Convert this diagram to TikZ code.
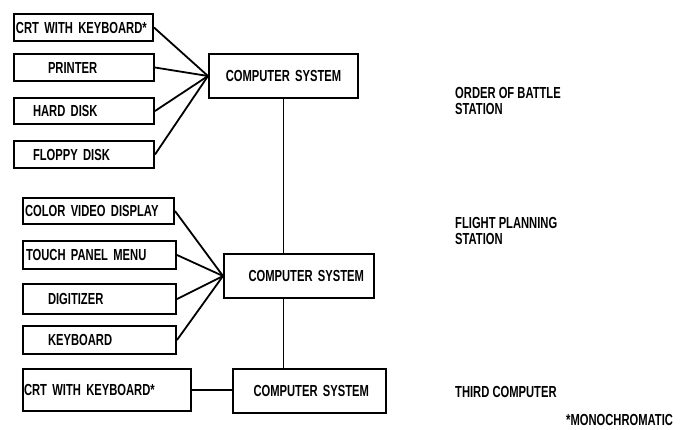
\documentclass[tikz,border=0pt]{standalone}
\usepackage{fontspec}
\setmainfont{Liberation Sans}[FakeStretch=0.7]
\usepackage{tikz}
\usetikzlibrary{positioning, calc}

\tikzset{
  box/.style={draw, line width=2pt, inner sep=0pt, anchor=north west, align=left,
    font=\bfseries\fontsize{16}{16}\selectfont},
  note/.style={inner sep=0pt, align=left, font=\bfseries\fontsize{16}{16}\selectfont},
  wire/.style={line width=1.8pt}
}

\begin{document}
\begin{tikzpicture}[x=1pt, y=-1pt]
    \useasboundingbox (0,0) rectangle (691,429);

    % Order of battle station
    \node[box, minimum width=139, minimum height=27, text width=135] (crtA) at (13,13) {CRT WITH KEYBOARD*};
    \node[box, minimum width=140, minimum height=27, text width=72] (printer) at (13,53) {PRINTER};
    \node[box, minimum width=140, minimum height=26, text width=102] (hdd) at (13,97) {HARD DISK};
    \node[box, minimum width=140, minimum height=27, text width=102] (floppy) at (13,140) {FLOPPY DISK};
    \node[box, minimum width=149, minimum height=44, text width=135, align=center] (cs1) at (208,53) {COMPUTER SYSTEM};

    % Flight planning station
    \node[box, minimum width=151, minimum height=26, text width=147] (video) at (22,197) {COLOR VIDEO DISPLAY};
    \node[box, minimum width=153, minimum height=28, text width=147] (touch) at (22,240) {TOUCH PANEL MENU};
    \node[box, minimum width=153, minimum height=30, text width=103] (digit) at (22,283) {DIGITIZER};
    \node[box, minimum width=153, minimum height=28, text width=103] (keyb) at (22,325) {KEYBOARD};
    \node[box, minimum width=150, minimum height=44, text width=130, align=right] (cs2) at (223,253) {COMPUTER SYSTEM};

    % Third computer
    \node[box, minimum width=168, minimum height=42, text width=166] (crtB) at (22,368) {CRT WITH KEYBOARD*};
    \node[box, minimum width=153, minimum height=44, text width=119, align=right] (cs3) at (232,368) {COMPUTER SYSTEM};

    % Links
    \foreach \dev in {crtA, printer, hdd, floppy}
        \draw[wire] (\dev.east) -- (cs1.west);
    \foreach \dev in {video, touch, digit, keyb}
        \draw[wire] (\dev.east) -- (cs2.west);
    \draw[wire] (crtB.east) -- (crtB.east -| cs3.west);
    \draw[wire] (cs1.south) -- (cs1.south |- cs2.north);
    \draw[wire] (cs1.south |- cs2.south) -- (cs1.south |- cs3.north);

    % Station names
    \node[note, anchor=north west] (obs) at (455,87) {ORDER OF BATTLE\\STATION};
    \node[note, anchor=north west] (fps) at (455,217) {FLIGHT PLANNING\\STATION};
    \node[note, anchor=west] (third) at (455,392) {THIRD COMPUTER};
    \node[note, anchor=west] (mono) at (566,420) {*MONOCHROMATIC};
\end{tikzpicture}
\end{document}
